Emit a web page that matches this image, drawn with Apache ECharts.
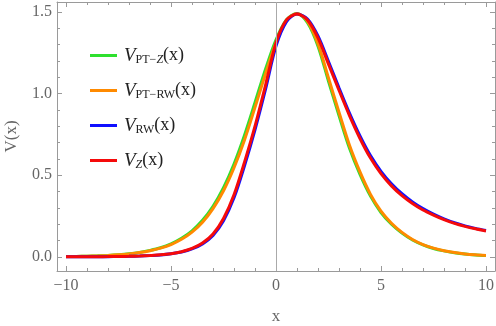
<!DOCTYPE html>
<html>
<head>
<meta charset="utf-8">
<script src="https://cdn.jsdelivr.net/npm/echarts@6/dist/echarts.min.js"></script>
<style>
  html, body { margin: 0; padding: 0; background: #fff; }
  #chart { width: 496px; height: 326px; }
</style>
</head>
<body>
<div id="chart"></div>
<script>
// x 取样点 (-10 .. 10, 步长 0.5)
const xs = [];
for (let i = 0; i <= 40; i++) xs.push(-10 + i * 0.5);

// 各条曲线的读数
const vPTZ = [0.0023, 0.0032, 0.0046, 0.0066, 0.0095, 0.0136, 0.0194, 0.0278, 0.040, 0.056, 0.080,
  0.114, 0.160, 0.224, 0.310, 0.424, 0.569, 0.745, 0.945, 1.149, 1.329,
  1.452, 1.490, 1.433, 1.290, 1.075, 0.865, 0.665, 0.505, 0.372, 0.272,
  0.200, 0.146, 0.104, 0.074, 0.052, 0.037, 0.026, 0.018, 0.0126, 0.0088];
const vPTRW = [0.0022, 0.0030, 0.0044, 0.0063, 0.0091, 0.013, 0.0186, 0.0266, 0.038, 0.054, 0.076,
  0.108, 0.152, 0.213, 0.296, 0.405, 0.546, 0.716, 0.915, 1.12, 1.31,
  1.445, 1.490, 1.442, 1.305, 1.095, 0.885, 0.683, 0.52, 0.383, 0.28,
  0.206, 0.150, 0.107, 0.076, 0.054, 0.038, 0.027, 0.0185, 0.013, 0.009];
const vRW = [0.0005, 0.0007, 0.001, 0.0014, 0.0019, 0.0028, 0.0038, 0.0057, 0.0085, 0.012, 0.019,
  0.030, 0.049, 0.080, 0.132, 0.222, 0.362, 0.558, 0.778, 1.025, 1.29,
  1.44, 1.487, 1.456, 1.352, 1.196, 1.035, 0.88, 0.74, 0.62, 0.524,
  0.448, 0.387, 0.337, 0.296, 0.262, 0.233, 0.209, 0.19, 0.175, 0.162];
const vZ = [0.0005, 0.0007, 0.001, 0.0015, 0.002, 0.003, 0.004, 0.006, 0.009, 0.013, 0.02,
  0.032, 0.052, 0.085, 0.14, 0.235, 0.38, 0.58, 0.80, 1.05, 1.31,
  1.45, 1.486, 1.45, 1.34, 1.18, 1.02, 0.865, 0.725, 0.605, 0.51,
  0.435, 0.375, 0.327, 0.287, 0.256, 0.228, 0.205, 0.187, 0.172, 0.159];

// 刻度
const xMajor = [-10, -5, 0, 5, 10];
const xMinor = [];
for (let i = -10; i <= 10; i++) xMinor.push(i);
const yMajor = [0, 0.5, 1, 1.5];
const yMinor = [];
for (let i = 0; i <= 15; i++) yMinor.push(i / 10);

const serif = '"Liberation Serif", "DejaVu Serif", serif';
const axisGray = '#9a9a9a';
const labelGray = '#666';

const toPairs = (ys) => xs.map((x, i) => [x, ys[i]]);
const minus = (v) => (v < 0 ? '\u2212' + (-v) : '' + v);

// 四条边的坐标轴 (Mathematica 风格边框)
const xAx = (pos, ticks, len, showLine, showLabel) => ({
  type: 'value', min: -10.43, max: 10.43, position: pos,
  axisLine: { show: showLine, onZero: false, lineStyle: { color: axisGray, width: 1 } },
  axisTick: { show: true, inside: true, length: len, customValues: ticks, lineStyle: { color: axisGray } },
  axisLabel: { show: showLabel, customValues: xMajor, formatter: minus, color: labelGray,
    fontFamily: serif, fontSize: 16, margin: 7 },
  splitLine: { show: false }
});
const yAx = (pos, ticks, len, showLine, showLabel) => ({
  type: 'value', min: -0.086, max: 1.56, position: pos,
  axisLine: { show: showLine, onZero: false, lineStyle: { color: axisGray, width: 1 } },
  axisTick: { show: true, inside: true, length: len, customValues: ticks, lineStyle: { color: axisGray } },
  axisLabel: { show: showLabel, customValues: yMajor, formatter: (v) => v.toFixed(1), color: labelGray,
    fontFamily: serif, fontSize: 16, margin: 5 },
  splitLine: { show: false }
});

const xAxes = [
  Object.assign(xAx('bottom', xMajor, 5, true, true), {
    name: 'x', nameLocation: 'middle', nameGap: 37,
    nameTextStyle: { color: labelGray, fontFamily: serif, fontSize: 17 }
  }),
  xAx('bottom', xMinor, 3, false, false),
  xAx('top', xMajor, 5, true, false),
  xAx('top', xMinor, 3, false, false)
];
const yAxes = [
  Object.assign(yAx('left', yMajor, 5, true, true), {
    name: 'V(x)', nameLocation: 'middle', nameGap: 37, nameRotate: 90,
    nameTextStyle: { color: labelGray, fontFamily: serif, fontSize: 17 }
  }),
  yAx('left', yMinor, 3, false, false),
  yAx('right', yMajor, 5, true, false),
  yAx('right', yMinor, 3, false, false)
];

const legendText = {
  'PT-Z': '{v|V}{s|PT\u2212}{si|Z}{p|(x)}',
  'PT-RW': '{v|V}{s|PT\u2212RW}{p|(x)}',
  'RW': '{v|V}{s|RW}{p|(x)}',
  'Z': '{v|V}{si|Z}{p|(x)}'
};

const mk = (name, color, data) => ({
  name: name, type: 'line', data: toPairs(data), smooth: 0.3,
  showSymbol: false, symbol: 'none',
  lineStyle: { color: color, width: 3 }, itemStyle: { color: color }
});

const series = [
  mk('PT-Z', '#2ee02e', vPTZ),
  mk('PT-RW', '#ff8a00', vPTRW),
  mk('RW', '#1010ff', vRW),
  mk('Z', '#f50a0a', vZ)
];
series[0].markLine = {
  silent: true, symbol: 'none', animation: false,
  label: { show: false },
  lineStyle: { color: '#aaa', width: 1, type: 'solid' },
  data: [{ xAxis: 0 }]
};
series[0].z = 1;

const chart = echarts.init(document.getElementById('chart'), null, { renderer: 'canvas' });
chart.setOption({
  animation: false,
  backgroundColor: '#fff',
  grid: { left: 57, right: 1, top: 2, bottom: 55, containLabel: false, outerBoundsMode: 'none' },
  xAxis: xAxes,
  yAxis: yAxes,
  legend: {
    orient: 'vertical', left: 85, top: 39, itemGap: 12,
    itemWidth: 27, itemHeight: 3, icon: 'rect',
    data: ['PT-Z', 'PT-RW', 'RW', 'Z'],
    formatter: (n) => legendText[n],
    textStyle: {
      fontFamily: serif, color: '#222', lineHeight: 23, padding: [0, 0, 0, 2],
      rich: {
        v: { fontFamily: serif, fontStyle: 'italic', fontSize: 19, color: '#222' },
        s: { fontFamily: serif, fontSize: 12, color: '#222', padding: [9, 0, 0, 0] },
        si: { fontFamily: serif, fontStyle: 'italic', fontSize: 12, color: '#222', padding: [9, 0, 0, 0] },
        p: { fontFamily: serif, fontSize: 18, color: '#222' }
      }
    }
  },
  series: series
});
window.addEventListener('resize', () => { chart.resize(); });
</script>
</body>
</html>
